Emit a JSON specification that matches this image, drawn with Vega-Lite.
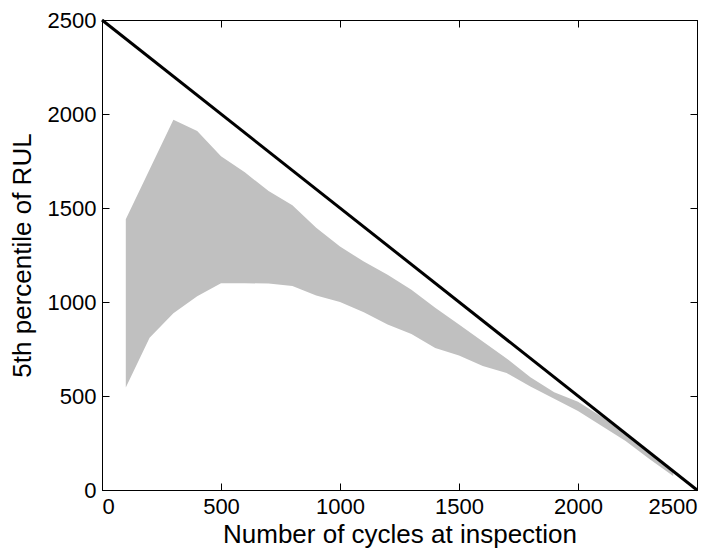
{
  "$schema": "https://vega.github.io/schema/vega-lite/v6.json",
  "width": 595,
  "height": 470,
  "autosize": {"type": "none"},
  "padding": {"left": 102, "top": 20, "right": 26, "bottom": 60},
  "background": "white",
  "config": {
    "view": {"stroke": "#000", "strokeWidth": 1},
    "font": "Liberation Sans",
    "axis": {
      "domainColor": "#000",
      "tickColor": "#000",
      "labelColor": "#000",
      "titleColor": "#000",
      "labelFont": "Liberation Sans",
      "titleFont": "Liberation Sans",
      "labelFontSize": 22,
      "titleFontSize": 26,
      "titleFontWeight": "normal",
      "grid": false,
      "tickSize": -7,
      "tickWidth": 1,
      "labelPadding": 13,
      "format": "d"
    }
  },
  "datasets": {
    "band": [
      {"cycles": 100, "lo": 545, "hi": 1440},
      {"cycles": 200, "lo": 810, "hi": 1705},
      {"cycles": 300, "lo": 940, "hi": 1970},
      {"cycles": 400, "lo": 1030, "hi": 1910},
      {"cycles": 500, "lo": 1100, "hi": 1775},
      {"cycles": 600, "lo": 1100, "hi": 1690},
      {"cycles": 700, "lo": 1098, "hi": 1590},
      {"cycles": 800, "lo": 1085, "hi": 1515},
      {"cycles": 900, "lo": 1035, "hi": 1395},
      {"cycles": 1000, "lo": 1000, "hi": 1295},
      {"cycles": 1100, "lo": 945, "hi": 1215},
      {"cycles": 1200, "lo": 880, "hi": 1145},
      {"cycles": 1300, "lo": 830, "hi": 1065},
      {"cycles": 1400, "lo": 755, "hi": 970},
      {"cycles": 1500, "lo": 715, "hi": 880},
      {"cycles": 1600, "lo": 660, "hi": 790},
      {"cycles": 1700, "lo": 622, "hi": 700},
      {"cycles": 1800, "lo": 550, "hi": 600},
      {"cycles": 1900, "lo": 485, "hi": 520},
      {"cycles": 2000, "lo": 420, "hi": 470},
      {"cycles": 2100, "lo": 340, "hi": 390},
      {"cycles": 2200, "lo": 260, "hi": 295},
      {"cycles": 2300, "lo": 165, "hi": 195},
      {"cycles": 2400, "lo": 75, "hi": 100}
    ],
    "ideal": [
      {"cycles": 0, "rul": 2500},
      {"cycles": 2500, "rul": 0}
    ]
  },
  "layer": [
    {
      "data": {"name": "band"},
      "mark": {"type": "area", "color": "#c0c0c0", "opacity": 1},
      "encoding": {
        "x": {
          "field": "cycles", "type": "quantitative",
          "scale": {"domain": [0, 2500], "nice": false},
          "axis": {"values": [0, 500, 1000, 1500, 2000, 2500], "title": "Number of cycles at inspection", "titlePadding": 4}
        },
        "y": {
          "field": "lo", "type": "quantitative",
          "scale": {"domain": [0, 2500], "nice": false},
          "axis": {"values": [0, 500, 1000, 1500, 2000, 2500], "title": "5th percentile of RUL", "titlePadding": 12}
        },
        "y2": {"field": "hi"}
      }
    },
    {
      "data": {"name": "ideal"},
      "mark": {"type": "line", "color": "#000", "strokeWidth": 3},
      "encoding": {
        "x": {
          "field": "cycles", "type": "quantitative",
          "scale": {"domain": [0, 2500], "nice": false},
          "axis": {"orient": "top", "values": [0, 500, 1000, 1500, 2000, 2500], "labels": false, "title": null}
        },
        "y": {
          "field": "rul", "type": "quantitative",
          "scale": {"domain": [0, 2500], "nice": false},
          "axis": {"orient": "right", "values": [0, 500, 1000, 1500, 2000, 2500], "labels": false, "title": null}
        }
      }
    }
  ],
  "resolve": {"scale": {"x": "independent", "y": "independent"}, "axis": {"x": "independent", "y": "independent"}}
}
